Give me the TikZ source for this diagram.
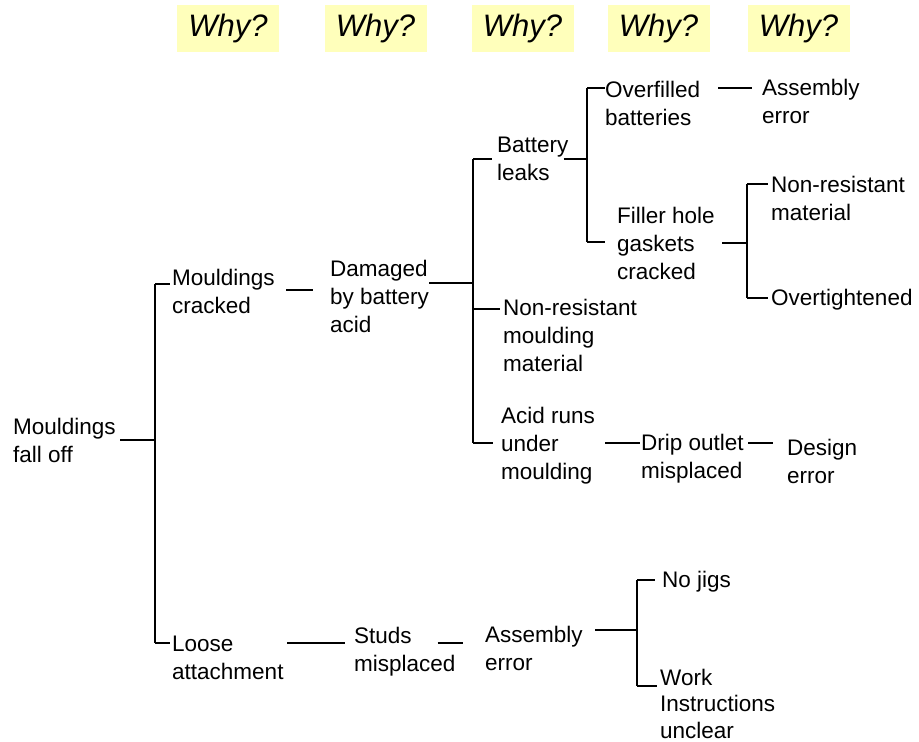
\documentclass[tikz,border=0pt]{standalone}
\usepackage{fontspec}
\setmainfont{Liberation Sans}
\definecolor{whyyellow}{RGB}{255,255,187}
\newcommand\causefont{\fontsize{22.5}{28}\selectfont}
\newcommand\tightfont{\fontsize{22.5}{26.5}\selectfont}
\newcommand\whyfont{\fontsize{31}{36}\selectfont\itshape}
\newcommand\capstrut{\vrule width0pt height16.5pt depth0pt}

\begin{document}
\begin{tikzpicture}[x=1pt,y=-1pt,
    cause/.style={anchor=north west,align=left,inner sep=0pt,font=\causefont,execute at begin node=\capstrut},
    why/.style={fill=whyyellow,minimum width=102pt,minimum height=47pt,inner sep=0pt,font=\whyfont}]
      \useasboundingbox (0,0) rectangle (919,742);
      \draw
        (228,28.5) node[why] (why1){Why?}
        (375.5,28.5) node[why] (why2){Why?}
        (522.5,28.5) node[why] (why3){Why?}
        (658.5,28.5) node[why] (why4){Why?}
        (798.5,28.5) node[why] (why5){Why?};
      \draw
        (13,417.5) node[cause] (falloff){Mouldings\\fall off}
        (172,268.5) node[cause] (cracked){Mouldings\\cracked}
        (172,635.5) node[cause] (loose){Loose\\attachment}
        (330,259.5) node[cause] (damaged){Damaged\\by battery\\acid}
        (354,626.5) node[cause] (studs){Studs\\misplaced}
        (497,136.5) node[cause] (leaks){Battery\\leaks}
        (503,298.5) node[cause] (nonres){Non-resistant\\moulding\\material}
        (501,406.5) node[cause] (acidruns){Acid runs\\under\\moulding}
        (485,625.5) node[cause] (asmb){Assembly\\error}
        (605,80.5) node[cause] (overfill){Overfilled\\batteries}
        (617,206.5) node[cause] (filler){Filler hole\\gaskets\\cracked}
        (641,433.5) node[cause] (drip){Drip outlet\\misplaced}
        (662,570.5) node[cause] (nojigs){No jigs}
        (660,668.5) node[cause,font=\tightfont] (work){Work\\Instructions\\unclear}
        (762,78.5) node[cause] (asma){Assembly\\error}
        (771,175.5) node[cause] (nonmat){Non-resistant\\material}
        (771,288.5) node[cause] (overtight){Overtightened}
        (787,438.5) node[cause] (design){Design\\error};
      \coordinate (j1) at (155,440);
      \coordinate (j1t) at (155,284);
      \coordinate (j1b) at (155,643);
      \coordinate (k1) at (300,290);
      \coordinate (j2) at (473,283);
      \coordinate (j2t) at (473,159);
      \coordinate (j2m) at (473,309);
      \coordinate (j2b) at (473,443);
      \coordinate (j3) at (587,159);
      \coordinate (j3t) at (587,88);
      \coordinate (j3b) at (587,242);
      \coordinate (k2) at (730,88);
      \coordinate (j4) at (747,243);
      \coordinate (j4t) at (747,184);
      \coordinate (j4b) at (747,298);
      \coordinate (k5) at (300,643);
      \coordinate (j5) at (637,630);
      \coordinate (j5t) at (637,580);
      \coordinate (j5b) at (637,686);
      \begin{scope}[line width=1.3pt]
        \draw[shorten <=4.5pt] (falloff.east |- j1) to (j1);
        \draw (j1t) to (j1b);
        \draw[shorten >=2pt] (j1t) to (cracked.west |- j1t);
        \draw[shorten >=2pt] (j1b) to (loose.west |- j1b);
        \draw[shorten <=11.5pt,shorten >=17pt] (cracked.east |- k1) to (damaged.west |- k1);
        \draw (damaged.east |- j2) to (j2);
        \draw (j2t) to (j2b);
        \draw[shorten >=5pt] (j2t) to (leaks.west |- j2t);
        \draw[shorten >=3pt] (j2m) to (nonres.west |- j2m);
        \draw[shorten >=8pt] (j2b) to (acidruns.west |- j2b);
        \draw[shorten <=-5pt] (leaks.east |- j3) to (j3);
        \draw (j3t) to (j3b);
        \draw (j3t) to (overfill.west |- j3t);
        \draw[shorten >=12pt] (j3b) to (filler.west |- j3b);
        \draw[shorten <=18pt,shorten >=10pt] (overfill.east |- k2) to (asma.west |- k2);
        \draw[shorten <=7.5pt] (filler.east |- j4) to (j4);
        \draw (j4t) to (j4b);
        \draw[shorten >=3pt] (j4t) to (nonmat.west |- j4t);
        \draw[shorten >=3pt] (j4b) to (overtight.west |- j4b);
        \draw[shorten <=10pt,shorten >=1pt] (acidruns.east |- j2b) to (drip.west |- j2b);
        \draw[shorten <=4.5pt,shorten >=14pt] (drip.east |- j2b) to (design.west |- j2b);
        \draw[shorten <=3.7pt,shorten >=9pt] (loose.east |- k5) to (studs.west |- k5);
        \draw[shorten <=-18pt,shorten >=22pt] (studs.east |- k5) to (asmb.west |- k5);
        \draw[shorten <=12.5pt] (asmb.east |- j5) to (j5);
        \draw (j5t) to (j5b);
        \draw[shorten >=7pt] (j5t) to (nojigs.west |- j5t);
        \draw[shorten >=3pt] (j5b) to (work.west |- j5b);
      \end{scope}
    \end{tikzpicture}
\end{document}
